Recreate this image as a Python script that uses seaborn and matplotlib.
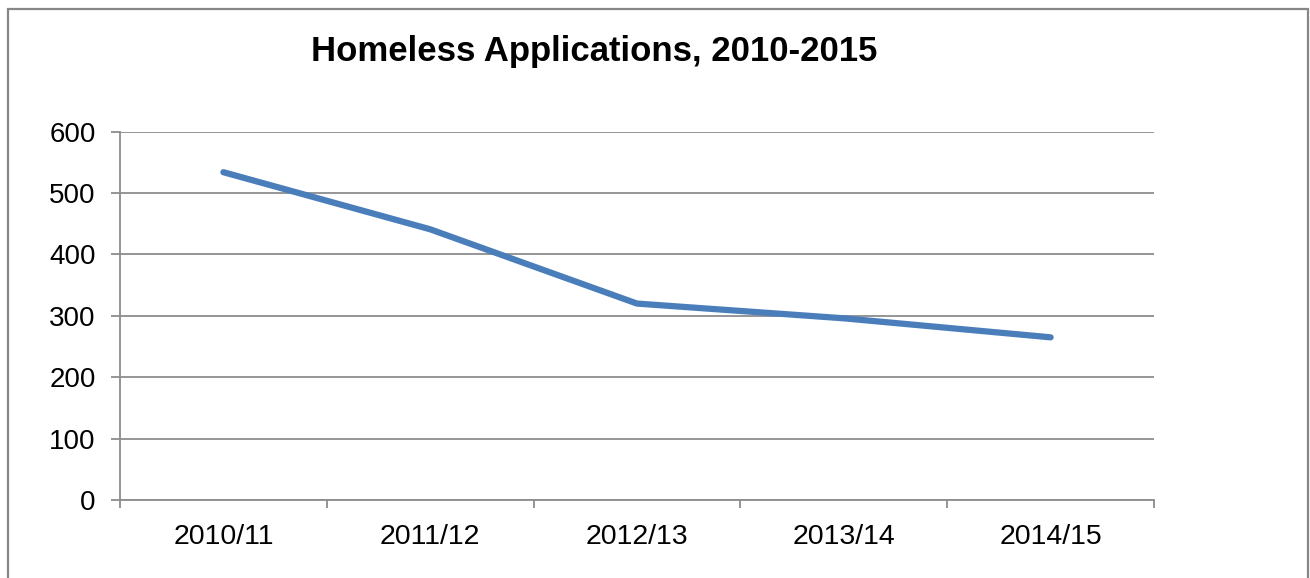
import matplotlib
matplotlib.use("Agg")
import matplotlib.pyplot as plt
from matplotlib.patches import Rectangle
import seaborn as sns
import pandas as pd

# Homeless applications per financial year
years = ["2010/11", "2011/12", "2012/13", "2013/14", "2014/15"]
applications = [534, 441, 320, 296, 265]
y_ticks = [0, 100, 200, 300, 400, 500, 600]

sns.set_theme(style="white")
plt.rcParams["font.family"] = ["Liberation Sans", "DejaVu Sans"]

W, H, DPI = 1310, 578, 100
fig = plt.figure(figsize=(W / DPI, H / DPI), dpi=DPI)
fig.patch.set_facecolor("white")

# chart frame
fig.patches.append(Rectangle((8 / W, -0.05), 1300 / W, 1.05 - 9 / H,
                             transform=fig.transFigure, fill=False,
                             edgecolor="#878787", linewidth=1.6))

ax = fig.add_axes([120 / W, 78 / H, 1034 / W, 368.3 / H])

df = pd.DataFrame({"pos": range(len(years)), "value": applications})
sns.lineplot(data=df, x="pos", y="value", ax=ax, color="#4A7EBB",
             linewidth=4.5, solid_capstyle="round", solid_joinstyle="round",
             zorder=3)

grid_col = "#8C8C8C"
ax.set_xlim(-0.5, len(years) - 0.5)
ax.set_ylim(0, 600)
ax.set_yticks(y_ticks)
ax.set_yticklabels([str(v) for v in y_ticks], fontsize=20)
ax.yaxis.grid(True, color=grid_col, linewidth=1.3)
ax.xaxis.grid(False)

# category boundaries carry the tick marks; labels sit at category centres
ax.set_xticks([i - 0.5 for i in range(len(years) + 1)])
ax.set_xticklabels([])
ax.set_xticks(range(len(years)), minor=True)
ax.set_xticklabels(years, minor=True, fontsize=20.5)
ax.tick_params(axis="x", which="major", direction="out", length=6,
               width=1.3, color=grid_col, bottom=True)
ax.tick_params(axis="x", which="minor", length=0, pad=17,
               labelcolor="black")
ax.tick_params(axis="y", direction="out", length=6.5, width=1.3,
               color=grid_col, left=True, pad=11, labelcolor="black")

for side in ["top", "right"]:
    ax.spines[side].set_visible(False)
for side in ["left", "bottom"]:
    ax.spines[side].set_color(grid_col)
    ax.spines[side].set_linewidth(1.3)

ax.set_xlabel("")
ax.set_ylabel("")

fig.text(594 / W, 1 - 51 / H, "Homeless Applications, 2010-2015",
         ha="center", va="center", fontsize=25, fontweight="bold",
         color="black")

fig.savefig("out.png", dpi=DPI, facecolor="white")
